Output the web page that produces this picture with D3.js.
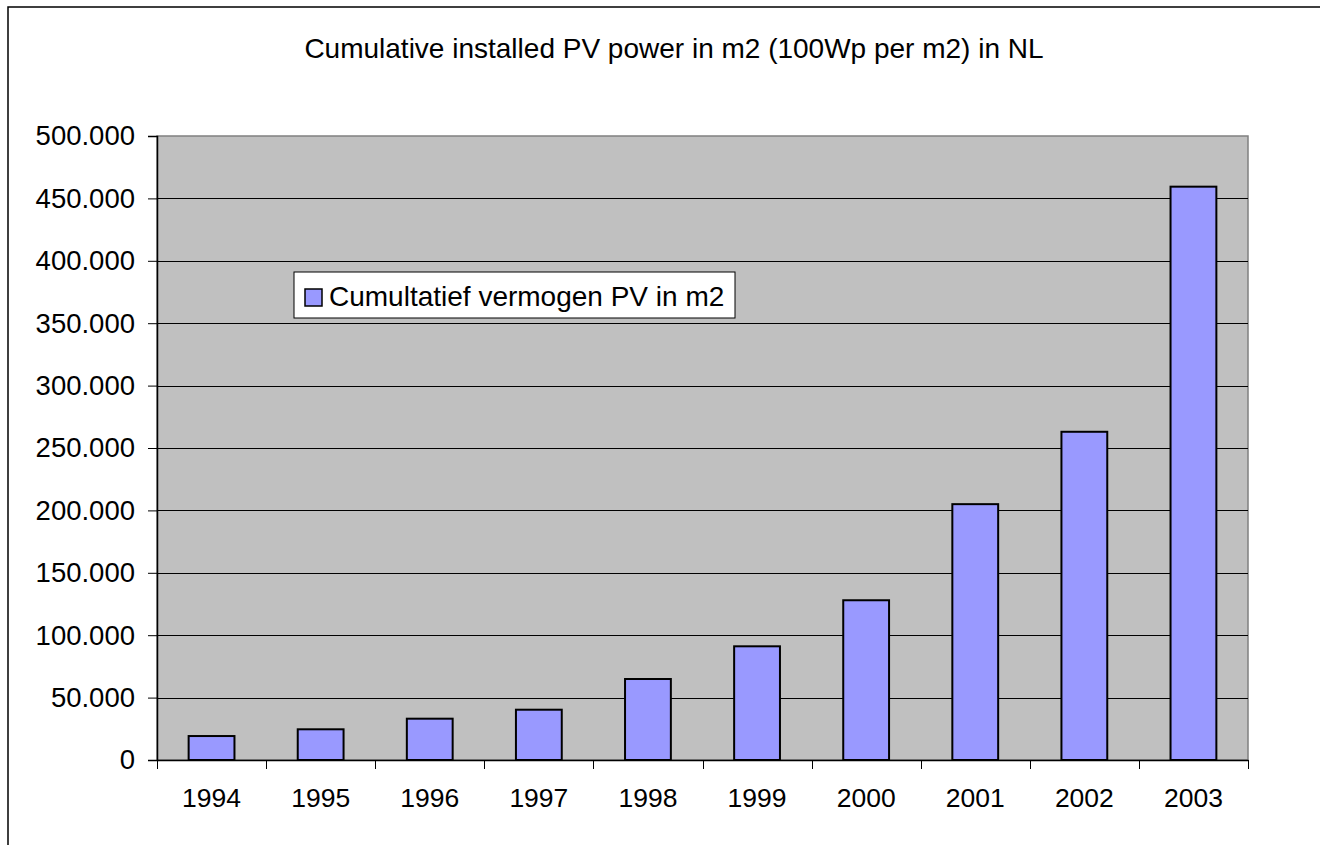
<!DOCTYPE html>
<html>
<head>
<meta charset="utf-8">
<script src="https://cdn.jsdelivr.net/npm/d3@7"></script>
<style>
  body { margin: 0; background: #fff; }
  svg { display: block; }
  text { font-family: "Liberation Sans", Arial, sans-serif; fill: #000; }
</style>
</head>
<body>
<svg id="chart" width="1320" height="845"></svg>
<script>
const years = ["1994","1995","1996","1997","1998","1999","2000","2001","2002","2003"];
const values = [19200, 24600, 33100, 40300, 64900, 91100, 128000, 205000, 263000, 459400];
const yTicks = [0, 50000, 100000, 150000, 200000, 250000, 300000, 350000, 400000, 450000, 500000];
const seriesName = "Cumultatief vermogen PV in m2";
const titleText = "Cumulative installed PV power in m2 (100Wp per m2) in NL";

const svg = d3.select("#chart");
const plot = {left: 157, right: 1248, top: 136, bottom: 760};

// outer chart frame
svg.append("rect").attr("x", 8).attr("y", 7).attr("width", 1330).attr("height", 860)
  .attr("fill", "#fff").attr("stroke", "#000").attr("stroke-width", 1.5);

const xb = d3.scaleBand().domain(years).range([plot.left, plot.right]);
const y = d3.scaleLinear().domain([0, 500000]).range([plot.bottom, plot.top]);

// plot area
svg.append("rect").attr("x", plot.left).attr("y", plot.top)
  .attr("width", plot.right - plot.left).attr("height", plot.bottom - plot.top)
  .attr("fill", "#C0C0C0").attr("stroke", "#808080").attr("stroke-width", 1.5);

// gridlines
svg.append("g").selectAll("line").data(yTicks.filter(d => d > 0 && d < 500000)).join("line")
  .attr("x1", plot.left).attr("x2", plot.right)
  .attr("y1", d => Math.round(y(d)) + 0.5).attr("y2", d => Math.round(y(d)) + 0.5)
  .attr("stroke", "#000").attr("stroke-width", 1);

// bars
svg.append("g").selectAll("rect").data(values).join("rect")
  .attr("x", (d, i) => xb(years[i]) + xb.bandwidth() * 0.29)
  .attr("width", xb.bandwidth() * 0.42)
  .attr("y", d => y(d))
  .attr("height", d => y(0) - y(d))
  .attr("fill", "#9999FF").attr("stroke", "#000").attr("stroke-width", 2);

// y axis
const fmt = d => d === 0 ? "0" : d3.format(",")(d).replace(/,/g, ".");
const yAxis = d3.axisLeft(y).tickValues(yTicks).tickFormat(fmt).tickSize(9).tickPadding(13);
const gy = svg.append("g").attr("transform", `translate(${plot.left},0)`).call(yAxis);
gy.select(".domain").attr("stroke", "#000").attr("stroke-width", 1.5);
gy.selectAll(".tick line").attr("stroke", "#000").attr("stroke-width", 1);
gy.selectAll("text").style("font-size", "27.5px").attr("font-family", "Liberation Sans, Arial, sans-serif");

// x axis
const xAxis = d3.axisBottom(xb).tickSize(0).tickPadding(28);
const gx = svg.append("g").attr("transform", `translate(0,${plot.bottom})`).call(xAxis);
gx.select(".domain").attr("stroke", "#000").attr("stroke-width", 1.5);
gx.selectAll("text").style("font-size", "26.5px").attr("font-family", "Liberation Sans, Arial, sans-serif");
// category boundary ticks
const bounds = years.map(d => xb(d)).concat([xb(years[years.length - 1]) + xb.bandwidth()]);
gx.append("g").selectAll("line").data(bounds).join("line")
  .attr("x1", d => Math.round(d) + 0.5).attr("x2", d => Math.round(d) + 0.5)
  .attr("y1", 0).attr("y2", 9).attr("stroke", "#000").attr("stroke-width", 1);

// title
svg.append("text").attr("x", 674).attr("y", 58).attr("text-anchor", "middle")
  .style("font-size", "28px").text(titleText);

// legend
const lg = svg.append("g");
lg.append("rect").attr("x", 294).attr("y", 272).attr("width", 441).attr("height", 46)
  .attr("fill", "#fff").attr("stroke", "#000").attr("stroke-width", 1);
lg.append("rect").attr("x", 305).attr("y", 289).attr("width", 17).attr("height", 17)
  .attr("fill", "#9999FF").attr("stroke", "#000").attr("stroke-width", 1.5);
lg.append("text").attr("x", 329).attr("y", 306).style("font-size", "28px").text(seriesName);
</script>
</body>
</html>
